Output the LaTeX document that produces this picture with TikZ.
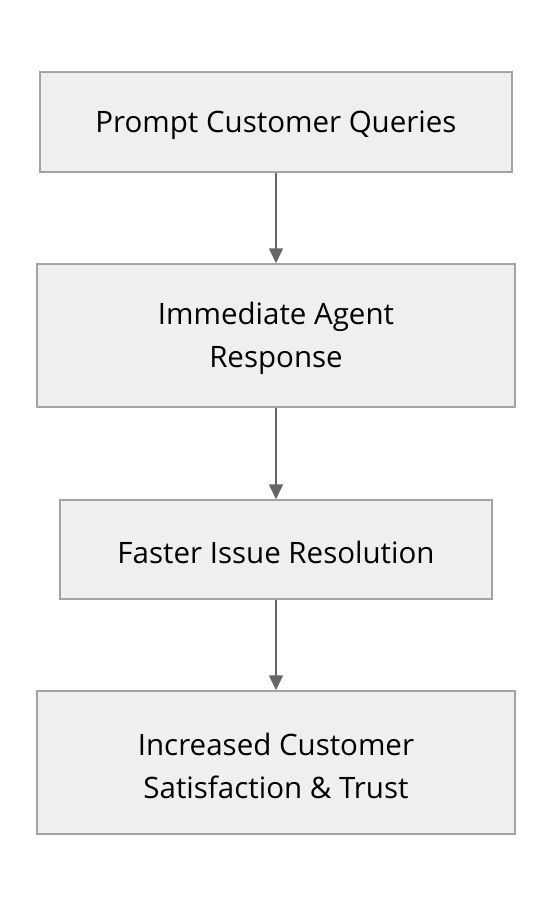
\documentclass[tikz,border=0pt]{standalone}
\usepackage{fontspec}
\setmainfont{Open Sans}
\usetikzlibrary{arrows.meta}
\definecolor{boxfill}{HTML}{EFEFEF}
\definecolor{boxline}{HTML}{A3A3A3}
\definecolor{arrowc}{HTML}{666666}
\begin{document}
\begin{tikzpicture}[x=1pt,y=-1pt,
  box/.style={draw=boxline, fill=boxfill, line width=1.5pt, inner sep=0pt},
  txt/.style={inner sep=0pt, align=center, font=\fontsize{29.5}{43}\selectfont},
  conn/.style={draw=arrowc, line width=1.5pt, -{Triangle[length=15pt,width=14pt]}}]
\useasboundingbox[fill=white] (0,0) rectangle (552,908);
\node[box, minimum width=472pt, minimum height=100pt] (a) at (276,122) {};
\node[box, minimum width=478pt, minimum height=143pt] (b) at (276,335.5) {};
\node[box, minimum width=432pt, minimum height=99pt] (c) at (276,549.5) {};
\node[box, minimum width=478pt, minimum height=143pt] (d) at (276,762.5) {};
\node[txt] (at) at ([yshift=-3.5pt]a.center) {Prompt Customer Queries};
\node[txt] (bt) at ([yshift=-3pt]b.center) {Immediate Agent\\Response};
\node[txt] (ct) at ([yshift=-3pt]c.center) {Faster Issue Resolution};
\node[txt] (dt) at ([yshift=-3pt]d.center) {Increased Customer\\Satisfaction \& Trust};
\draw[conn] (a) -- (b);
\draw[conn] (b) -- (c);
\draw[conn] (c) -- (d);
\end{tikzpicture}
\end{document}
